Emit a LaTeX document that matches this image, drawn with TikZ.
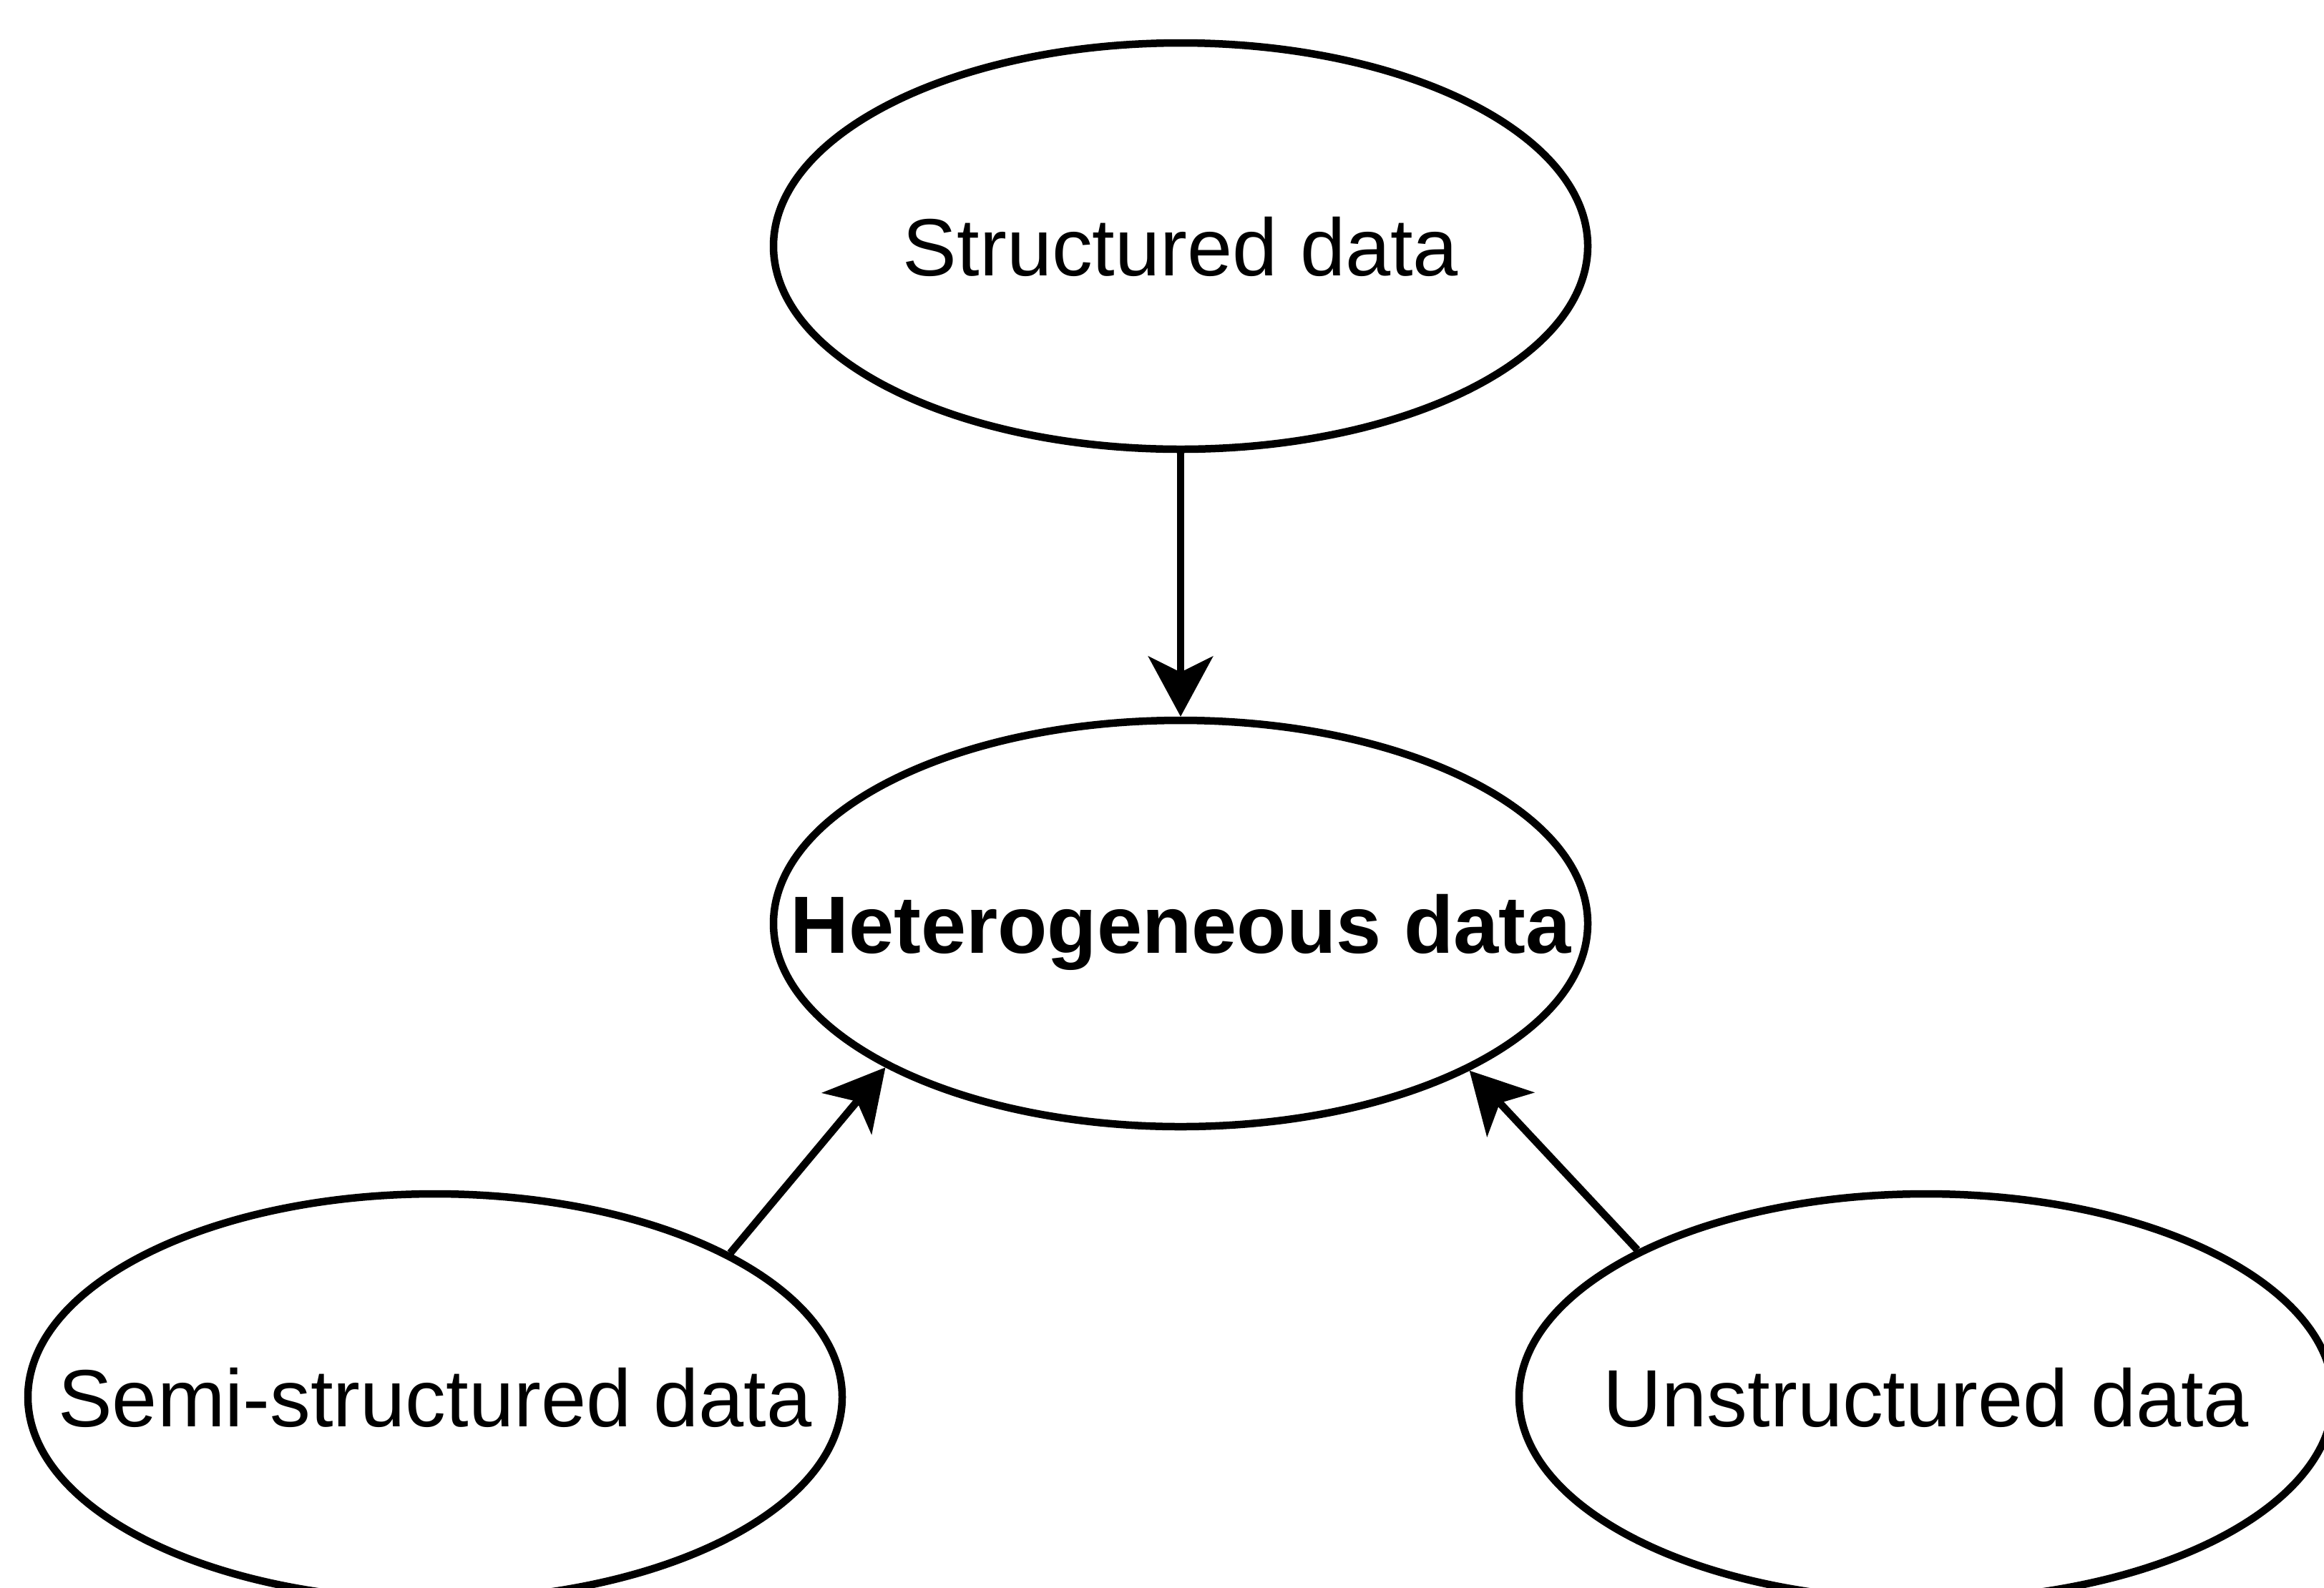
\documentclass[tikz,border=0pt]{standalone}
\usepackage{fontspec}
\setmainfont{Liberation Sans}
\usetikzlibrary{shapes.geometric,arrows.meta}
\begin{document}
\begin{tikzpicture}[
  blob/.style={ellipse, draw=black, line width=1.05mm, fill=white,
    minimum width=11.38cm, minimum height=5.68cm, inner sep=0pt,
    text height=0.82cm, text depth=0pt,
    font=\fontsize{32.3}{38}\selectfont},
  link/.style={line width=1.05mm, -{Stealth[length=8.4mm, width=9mm, inset=2.2mm]}}
]
\useasboundingbox[fill=white] (0,0) rectangle (32.48,-22.19);
\begin{scope}
\clip (0,0) rectangle (32.48,-22.19);
\node[blob] (struct) at (16.50,-3.44) {\makebox[0pt]{Structured data}};
\node[blob] (het) at (16.50,-12.91) {\makebox[0pt]{\bfseries Heterogeneous data}};
\node[blob] (semi) at (6.08,-19.53) {\makebox[0pt]{Semi-structured data}};
\node[blob] (unstr) at (26.92,-19.53) {\makebox[0pt]{Unstructured data}};
\draw[link] (struct.south) -- (het.north);
\draw[link] (semi.26.8) -- (het.206.5);
\draw[link] (unstr.153.2) -- (het.333.5);
\end{scope}
\end{tikzpicture}
\end{document}
